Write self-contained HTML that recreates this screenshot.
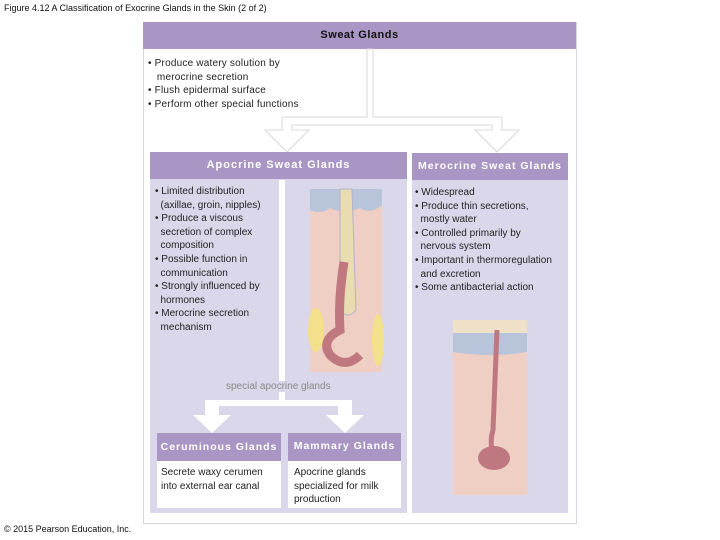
<!DOCTYPE html>
<html><head><style>
body{margin:0;width:720px;height:540px;background:#fff;position:relative;font-family:"Liberation Sans",sans-serif;overflow:hidden}
.a{position:absolute}
.t{font-size:10px;color:#222;line-height:13.6px;white-space:nowrap}
.h{background:#a996c4;color:#fff;font-weight:bold;font-size:11px;letter-spacing:1px;text-align:center}
</style></head><body>
<div class="a" style="left:4px;top:3px;font-size:9px;color:#111">Figure 4.12 A Classification of Exocrine Glands in the Skin (2 of 2)</div>
<div class="a" style="left:4px;top:524px;font-size:9px;color:#111">© 2015 Pearson Education, Inc.</div>
<div class="a" style="left:143px;top:22px;width:432px;height:500px;border:1px solid #d8d4e0;background:#fff"></div>
<div class="a h" style="left:143px;top:22px;width:433px;height:27px;line-height:27px;color:#111;letter-spacing:0.5px">Sweat Glands</div>
<div class="a t" style="left:148px;top:57px;letter-spacing:0.2px">• Produce watery solution by<br>&nbsp;&nbsp;&nbsp;merocrine secretion<br>• Flush epidermal surface<br>• Perform other special functions</div>
<svg class="a" style="left:0;top:0" width="720" height="540">
<g fill="#fff" stroke="#d8d8d8" stroke-width="1">
<path d="M367 49 V117 H282 V130 H265 L287 152 L309 130 H292 V125 H492 V130 H475 L497 152 L519 130 H502 V117 H373 V49 Z"/>
</g>
</svg>
<div class="a" style="left:150px;top:152px;width:257px;height:361px;background:#dbd7ea"></div>
<div class="a h" style="left:150px;top:152px;width:257px;height:27px;line-height:26px">Apocrine Sweat Glands</div>
<div class="a" style="left:412px;top:153px;width:156px;height:360px;background:#dbd7ea"></div>
<div class="a h" style="left:412px;top:153px;width:156px;height:27px;line-height:27px;font-size:10.5px">Merocrine Sweat Glands</div>
<div class="a t" style="left:155px;top:185px;font-size:10px">• Limited distribution<br>&nbsp;&nbsp;(axillae, groin, nipples)<br>• Produce a viscous<br>&nbsp;&nbsp;secretion of complex<br>&nbsp;&nbsp;composition<br>• Possible function in<br>&nbsp;&nbsp;communication<br>• Strongly influenced by<br>&nbsp;&nbsp;hormones<br>• Merocrine secretion<br>&nbsp;&nbsp;mechanism</div>
<div class="a t" style="left:415px;top:186px">• Widespread<br>• Produce thin secretions,<br>&nbsp;&nbsp;mostly water<br>• Controlled primarily by<br>&nbsp;&nbsp;nervous system<br>• Important in thermoregulation<br>&nbsp;&nbsp;and excretion<br>• Some antibacterial action</div>
<svg class="a" style="left:0;top:0" width="720" height="540">
<path d="M279 180 V400 H205 V415 H193 L212 433 L231 415 H219 V406 H338 V415 H326 L345 433 L364 415 H352 V400 H285 V180Z" fill="#fff"/>
<rect x="310" y="189" width="72" height="183" fill="#efcfc4"/>
<path d="M310 189 H382 V205 Q370 215 360 208 Q345 215 330 208 Q320 215 310 210Z" fill="#b8c4da"/>
<path d="M340 189 L352 189 L356 310 Q348 320 340 310 Z" fill="#e8dcb0" stroke="#b8b0c8"/>
<path d="M344 262 Q338 300 340 330 Q320 340 330 355 Q345 370 360 355" fill="none" stroke="#c07880" stroke-width="9"/>
<ellipse cx="316" cy="330" rx="8" ry="22" fill="#f3e08a"/>
<ellipse cx="378" cy="340" rx="6" ry="26" fill="#f3e08a"/>
<rect x="453" y="320" width="74" height="175" fill="#efcfc4"/>
<path d="M453 320 H527 V333 H453Z" fill="#efe0c8"/>
<path d="M453 333 H527 V352 Q490 358 453 352Z" fill="#b8c4da"/>
<path d="M497 330 Q495 380 493 430 Q490 440 492 450" fill="none" stroke="#c07880" stroke-width="5"/>
<ellipse cx="494" cy="458" rx="16" ry="12" fill="#c07880"/>
</svg>
<div class="a" style="left:224px;top:381px;font-size:10px;color:#888;background:#dbd7ea;padding:0 2px">special apocrine glands</div>
<div class="a h" style="left:157px;top:433px;width:124px;height:28px;line-height:28px;font-size:10.5px">Ceruminous Glands</div>
<div class="a" style="left:157px;top:461px;width:124px;height:47px;background:#fff"></div>
<div class="a t" style="left:161px;top:466px">Secrete waxy cerumen<br>into external ear canal</div>
<div class="a h" style="left:288px;top:433px;width:113px;height:28px;line-height:26px;font-size:10.5px">Mammary Glands</div>
<div class="a" style="left:288px;top:461px;width:113px;height:47px;background:#fff"></div>
<div class="a t" style="left:294px;top:466px">Apocrine glands<br>specialized for milk<br>production</div>
</body></html>
